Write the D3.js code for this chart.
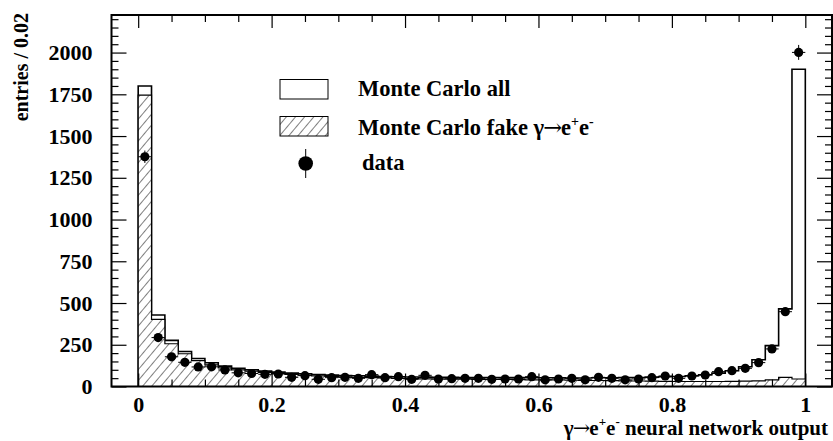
<!DOCTYPE html>
<html>
<head>
<meta charset="utf-8">
<script src="https://cdn.jsdelivr.net/npm/d3@7"></script>
<style>
  html, body { margin: 0; padding: 0; background: #fff; }
  svg text { font-family: "Liberation Serif", "Times New Roman", serif; font-weight: bold; fill: #000; }
</style>
</head>
<body>
<svg id="chart" width="833" height="441"></svg>
<script>
// ---- data (entries per 0.02 bin, 50 bins from 0 to 1) ----
const binEdgesStart = 0;
const binWidth = 0.02;
const mcAll = [1800, 428, 276, 210, 168, 142, 122, 109, 100, 92,
               86, 80, 76, 72, 68, 66, 64, 62, 60, 58,
               57, 56, 55, 55, 54, 54, 53, 53, 53, 52,
               52, 52, 51, 51, 52, 52, 53, 54, 56, 58,
               60, 64, 70, 80, 94, 118, 160, 245, 465, 1900];
const mcFake = [1745, 402, 256, 196, 155, 130, 112, 100, 92, 85,
                78, 72, 68, 64, 60, 58, 55, 53, 51, 49,
                47, 46, 45, 44, 44, 43, 42, 42, 41, 40,
                40, 39, 38, 37, 36, 35, 34, 33, 32, 31,
                30, 30, 30, 30, 31, 32, 34, 40, 55, 45];
const dataVals = [1376, 293, 178, 145, 117, 118, 99, 82, 78, 73,
                  75, 55, 65, 43, 53, 55, 49, 71, 53, 59,
                  43, 67, 45, 47, 49, 49, 43, 45, 45, 59,
                  40, 45, 49, 40, 55, 49, 40, 45, 53, 63,
                  49, 63, 69, 89, 95, 109, 143, 225, 448, 2001];
const xMajorTicks = [0, 0.2, 0.4, 0.6, 0.8, 1];
const xTickLabels = ["0", "0.2", "0.4", "0.6", "0.8", "1"];
const yMajorTicks = [0, 250, 500, 750, 1000, 1250, 1500, 1750, 2000];
const legendLabels = ["Monte Carlo all", "Monte Carlo fake ", "data"];
const decayParts = ["γ", "→", "e", "+", "e", "-"];
const xTitleRest = " neural network output";
const yTitle = "entries / 0.02";

// ---- layout ----
const L = 111.5, R = 832, T = 15, B = 386.5;
const svg = d3.select("#chart");
const x = d3.scaleLinear().domain([-0.04, 1.04]).range([L, R]);
const y = d3.scaleLinear().domain([0, 2225]).range([B, T]);

const defs = svg.append("defs");
const pat = defs.append("pattern")
  .attr("id", "hatch").attr("patternUnits", "userSpaceOnUse")
  .attr("width", 7).attr("height", 7)
  .attr("patternTransform", "rotate(40)");
pat.append("rect").attr("width", 7).attr("height", 7).attr("fill", "#fff");
pat.append("line").attr("x1", 0).attr("y1", 0).attr("x2", 0).attr("y2", 7)
  .attr("stroke", "#000").attr("stroke-width", 1);

defs.append("clipPath").attr("id", "plotclip").append("rect")
  .attr("x", L).attr("y", T).attr("width", R - L).attr("height", B - T);

function histPath(vals) {
  let p = "M" + x(binEdgesStart) + "," + y(0);
  vals.forEach((v, i) => {
    const x0 = x(binEdgesStart + i * binWidth), x1 = x(binEdgesStart + (i + 1) * binWidth);
    p += "L" + x0 + "," + y(v) + "L" + x1 + "," + y(v);
  });
  p += "L" + x(binEdgesStart + vals.length * binWidth) + "," + y(0) + "Z";
  return p;
}

const plot = svg.append("g").attr("clip-path", "url(#plotclip)");

plot.append("path").attr("d", histPath(mcAll))
  .attr("fill", "#fff").attr("stroke", "#000").attr("stroke-width", 1.6);
plot.append("path").attr("d", histPath(mcFake))
  .attr("fill", "url(#hatch)").attr("stroke", "#000").attr("stroke-width", 1.2);

const pts = plot.append("g");
dataVals.forEach((v, i) => {
  const c = binEdgesStart + (i + 0.5) * binWidth;
  const e = Math.sqrt(v);
  pts.append("line").attr("x1", x(c - binWidth / 2)).attr("x2", x(c + binWidth / 2))
    .attr("y1", y(v)).attr("y2", y(v)).attr("stroke", "#000").attr("stroke-width", 1);
  pts.append("line").attr("x1", x(c)).attr("x2", x(c))
    .attr("y1", y(v - e)).attr("y2", y(v + e)).attr("stroke", "#000").attr("stroke-width", 1);
  pts.append("circle").attr("cx", x(c)).attr("cy", y(v)).attr("r", 4.6).attr("fill", "#000");
});

// ---- axes (ticks inward) ----
const xMinor = d3.range(0, 21).map(i => i * 0.05).filter(v => !xMajorTicks.some(m => Math.abs(m - v) < 1e-9));
const yMinor = d3.range(0, 45).map(i => i * 50).filter(v => v % 250 !== 0 && v <= 2225);

function styleAxis(g) {
  g.select(".domain").remove();
  g.selectAll(".tick line").attr("stroke", "#000").attr("stroke-width", 1.2);
  g.selectAll("text").style("font-size", "22px");
}

svg.append("g").attr("transform", `translate(0,${B})`)
  .call(d3.axisBottom(x).tickValues(xMajorTicks).tickSize(-13).tickPadding(10)
    .tickFormat((d, i) => xTickLabels[i]))
  .call(styleAxis);
svg.append("g").attr("transform", `translate(0,${B})`)
  .call(d3.axisBottom(x).tickValues(xMinor).tickSize(-7).tickFormat(""))
  .call(styleAxis);
svg.append("g").attr("transform", `translate(0,${T})`)
  .call(d3.axisTop(x).tickValues(xMajorTicks).tickSize(-13).tickFormat(""))
  .call(styleAxis);
svg.append("g").attr("transform", `translate(0,${T})`)
  .call(d3.axisTop(x).tickValues(xMinor).tickSize(-7).tickFormat(""))
  .call(styleAxis);
svg.append("g").attr("transform", `translate(${L},0)`)
  .call(d3.axisLeft(y).tickValues(yMajorTicks).tickSize(-15).tickPadding(19).tickFormat(d3.format("d")))
  .call(styleAxis);
svg.append("g").attr("transform", `translate(${L},0)`)
  .call(d3.axisLeft(y).tickValues(yMinor).tickSize(-7).tickFormat(""))
  .call(styleAxis);
svg.append("g").attr("transform", `translate(${R},0)`)
  .call(d3.axisRight(y).tickValues(yMajorTicks).tickSize(-15).tickFormat(""))
  .call(styleAxis);
svg.append("g").attr("transform", `translate(${R},0)`)
  .call(d3.axisRight(y).tickValues(yMinor).tickSize(-7).tickFormat(""))
  .call(styleAxis);

svg.append("rect").attr("x", L).attr("y", T).attr("width", R - L).attr("height", B - T)
  .attr("fill", "none").attr("stroke", "#000").attr("stroke-width", 2);

// γ→e+e- with tight arrow and superscripts (absolute pixel shifts)
function appendDecay(t, size) {
  const up = -0.42 * size;
  const sup = (0.62 * size) + "px";
  t.append("tspan").text(decayParts[0]);
  t.append("tspan").attr("dx", -1).style("font-family", "'DejaVu Serif'").style("font-weight", "normal").text(decayParts[1]);
  t.append("tspan").attr("dx", -1).text(decayParts[2]);
  t.append("tspan").attr("dy", up).style("font-size", sup).text(decayParts[3]);
  t.append("tspan").attr("dy", -up).text(decayParts[4]);
  t.append("tspan").attr("dy", up).style("font-size", sup).text(decayParts[5]);
  return -up;
}

// axis titles
const xt = svg.append("text").attr("x", 828).attr("y", 435).attr("text-anchor", "end")
  .style("font-size", "21px");
const back = appendDecay(xt, 21);
xt.append("tspan").attr("dy", back).text(xTitleRest);

svg.append("text").attr("transform", "translate(28,13) rotate(-90)").attr("text-anchor", "end")
  .style("font-size", "20px").text(yTitle);

// legend
const lg = svg.append("g");
lg.append("rect").attr("x", 280).attr("y", 79.5).attr("width", 48).attr("height", 19.5)
  .attr("fill", "#fff").attr("stroke", "#000").attr("stroke-width", 1);
lg.append("rect").attr("x", 280).attr("y", 116.5).attr("width", 48).attr("height", 19.5)
  .attr("fill", "url(#hatch)").attr("stroke", "#000").attr("stroke-width", 1);
lg.append("line").attr("x1", 305.7).attr("x2", 305.7).attr("y1", 149).attr("y2", 178)
  .attr("stroke", "#000").attr("stroke-width", 1);
lg.append("circle").attr("cx", 305.7).attr("cy", 163.5).attr("r", 7.3).attr("fill", "#000");
const lgY = [96, 135, 170];
const lgX = [358, 358, 362];
legendLabels.forEach((t, i) => {
  const tx = lg.append("text").attr("x", lgX[i]).attr("y", lgY[i]).style("font-size", "22.5px");
  tx.append("tspan").text(t);
  if (i === 1) appendDecay(tx, 22.5);
});
</script>
</body>
</html>
